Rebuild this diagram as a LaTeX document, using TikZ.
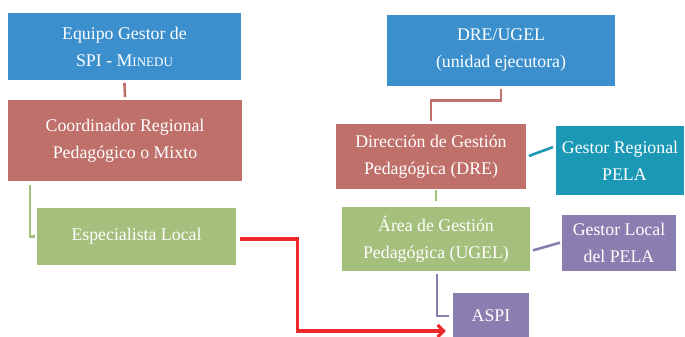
\documentclass[tikz,border=0pt]{standalone}
\usepackage{fontspec}
\setmainfont{Liberation Serif}
\usetikzlibrary{arrows.meta}
\definecolor{boxblue}{RGB}{59,143,204}
\definecolor{boxred}{RGB}{192,112,106}
\definecolor{boxgreen}{RGB}{165,191,124}
\definecolor{boxteal}{RGB}{27,152,181}
\definecolor{boxpurple}{RGB}{138,125,176}
\definecolor{linkred}{RGB}{236,40,42}

\begin{document}
\begin{tikzpicture}[x=1pt,y=-1pt,line cap=rect,
  org box/.style={inner sep=0pt,align=center,text=white,
    font=\fontsize{17.8}{27}\selectfont},
  link/.style={line width=2.6pt},
  >={Straight Barb[length=6pt,width=12pt]}]
  \useasboundingbox (0,0) rectangle (685,337);
  \node[org box,fill=boxblue,minimum width=233pt,minimum height=67pt] (equipo) at (124.5,46.5) {Equipo Gestor de\\SPI - M{\fontsize{13}{27}\selectfont INEDU}};
  \node[org box,fill=boxred,minimum width=234pt,minimum height=81pt] (coord) at (125,140.5) {Coordinador Regional\\Pedagógico o Mixto};
  \node[org box,fill=boxgreen,minimum width=199pt,minimum height=57pt] (esp) at (136.5,236.5) {Especialista Local};
  \node[org box,fill=boxblue,minimum width=228pt,minimum height=71pt] (dreugel) at (501,50.5) {DRE/UGEL\\(unidad ejecutora)};
  \node[org box,fill=boxred,minimum width=190pt,minimum height=65pt] (dir) at (431,156.5) {Dirección de Gestión\\Pedagógica (DRE)};
  \node[org box,fill=boxteal,minimum width=128pt,minimum height=69pt] (gestreg) at (620,160.5) {Gestor Regional\\\ \ PELA};
  \node[org box,fill=boxgreen,minimum width=188pt,minimum height=64pt] (area) at (436,239) {Área de Gestión\\Pedagógica (UGEL)};
  \node[org box,fill=boxpurple,minimum width=114pt,minimum height=56pt] (gestloc) at (619,243) {Gestor Local\\del PELA};
  \node[org box,fill=boxpurple,minimum width=76pt,minimum height=46pt] (aspi) at (491,316) {ASPI};
  % conectores
  \draw[link,boxred] ([yshift=-4pt]equipo.south) -- ([yshift=4pt]coord.north);
  \draw[link,boxgreen] ([xshift=22pt,yshift=-5pt]coord.south west) |- ([xshift=-3pt]esp.west);
  \draw[link,boxred] ([yshift=-4pt]dreugel.south) -- ++(0,10) -| ([yshift=4pt]dir.north);
  \draw[link,boxteal] ([xshift=4pt,yshift=1pt]dir.east) -- ([xshift=-4pt,yshift=13pt]gestreg.west);
  \draw[link,boxgreen] ([xshift=5pt,yshift=-2pt]dir.south) -- ([xshift=0pt,yshift=7pt]area.north);
  \draw[link,boxpurple] ([xshift=4pt,yshift=-11pt]area.east) -- ([xshift=-3pt]gestloc.west);
  \draw[link,boxpurple] ([xshift=1pt,yshift=-4pt]area.south) |- ([xshift=-5pt]aspi.west);
  \draw[->,line width=3.2pt,linkred] ([xshift=5pt,yshift=-2.5pt]esp.east) -- ++(56,0) |- ([xshift=-7pt,yshift=-15pt]aspi.west);
\end{tikzpicture}
\end{document}
